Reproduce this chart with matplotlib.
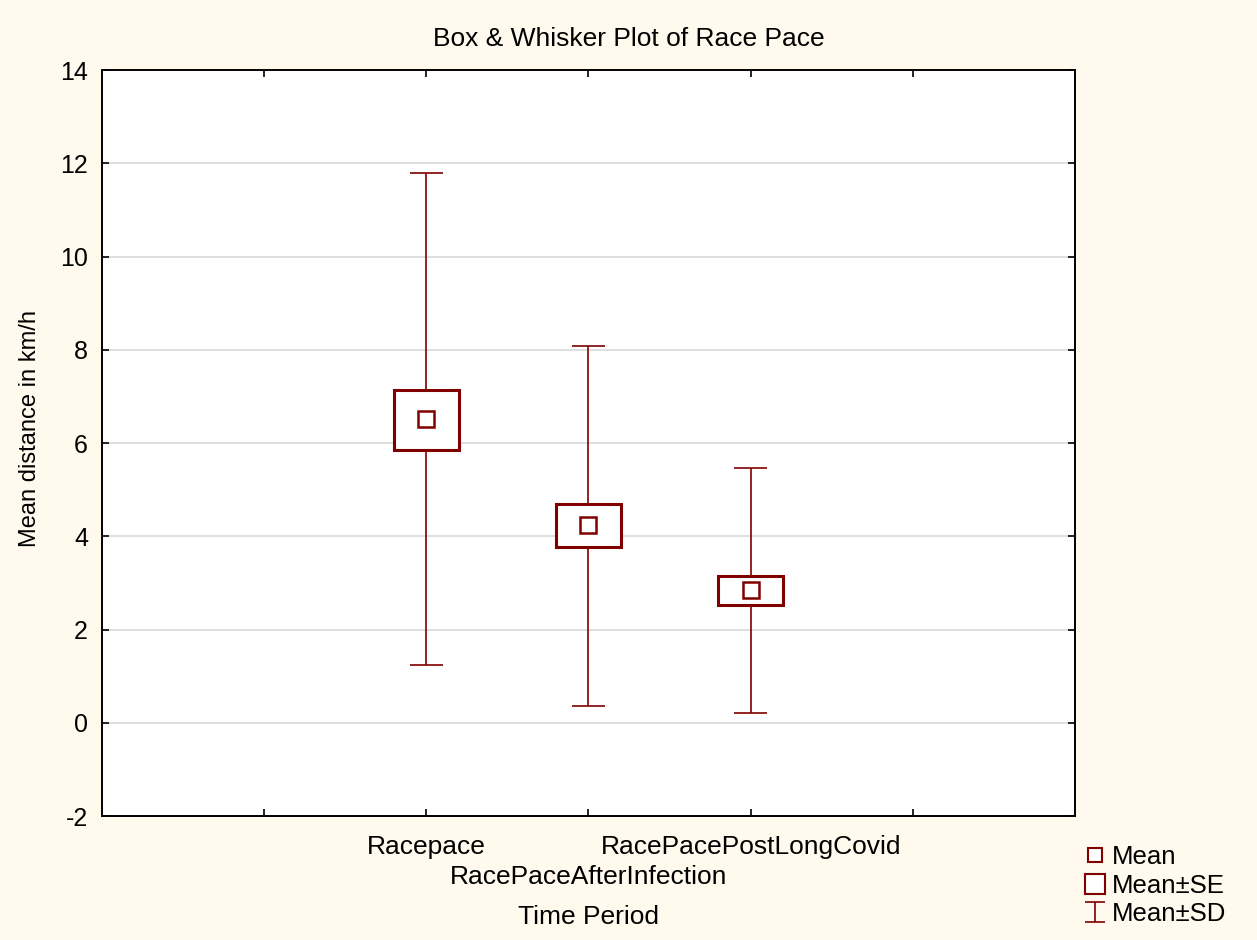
import numpy as np
import matplotlib.pyplot as plt
from matplotlib.patches import Rectangle
from matplotlib.lines import Line2D
from matplotlib.path import Path

plt.rcParams['font.family'] = ['Liberation Sans', 'DejaVu Sans']
plt.rcParams['axes.unicode_minus'] = False

# data
groups = ['Racepace', 'RacePaceAfterInfection', 'RacePacePostLongCovid']
means = [6.52, 4.24, 2.85]
se_lo = [5.86, 3.77, 2.53]
se_hi = [7.14, 4.69, 3.15]
sd_lo = [1.24, 0.36, 0.21]
sd_hi = [11.79, 8.09, 5.47]

red = '#800000'
bg = '#FFF9EE'

fig = plt.figure(figsize=(12.57, 9.4), dpi=100, facecolor=bg)
ax = fig.add_axes([0.0811, 0.1319, 0.7741, 0.7936])
ax.set_facecolor('white')

xs = np.arange(len(groups)) + 2
for i in range(len(groups)):
    x = xs[i]
    ax.vlines(x, sd_lo[i], sd_hi[i], color=red, lw=1.2, zorder=2)
    ax.hlines([sd_lo[i], sd_hi[i]], x - 0.1, x + 0.1, color=red, lw=1.2, zorder=2)
    ax.add_patch(Rectangle((x - 0.2, se_lo[i]), 0.4, se_hi[i] - se_lo[i],
                           facecolor='white', edgecolor=red, lw=2.2, zorder=3))
ax.plot(xs, means, ls='none', marker='s', ms=11, mfc='white', mec=red, mew=1.8, zorder=4)

ax.set_xlim(0, 6)
ax.set_ylim(-2, 14)
ax.set_yticks(np.arange(-2, 15, 2))
ax.set_xticks([1, 2, 3, 4, 5])
ax.set_xticklabels(['', groups[0], groups[1], groups[2], ''])
ax.yaxis.grid(True, color='#D9D9D9', lw=1.2)
ax.set_axisbelow(True)
ax.tick_params(direction='in', length=5, width=1.2, top=True, right=True, labelsize=18, pad=10)
ax.tick_params(axis='x', labelsize=19, pad=14)
# stagger the middle label like the original
ax.xaxis.get_major_ticks()[2].set_pad(35)
for s in ax.spines.values():
    s.set_linewidth(1.4)

fig.text(0.5, 0.959, 'Box & Whisker Plot of Race Pace', fontsize=19, ha='center', va='center')
ax.set_xlabel('Time Period', fontsize=19, labelpad=12)
ax.set_ylabel('Mean distance in km/h', fontsize=17, labelpad=14)
ax.yaxis.label.set_y(0.52)

ibeam = Path([(-1, 1), (1, 1), (0, 1), (0, -1), (-1, -1), (1, -1)],
             [Path.MOVETO, Path.LINETO, Path.MOVETO, Path.LINETO, Path.MOVETO, Path.LINETO])
handles = [
    Line2D([], [], ls='none', marker='s', ms=10, mfc='white', mec=red, mew=1.5),
    Line2D([], [], ls='none', marker='s', ms=14, mfc='white', mec=red, mew=1.5),
    Line2D([], [], ls='none', marker=ibeam, ms=15, mfc='none', mec=red, mew=1.2),
]
fig.legend(handles, ['Mean', 'Mean±SE', 'Mean±SD'], loc='upper left',
           bbox_to_anchor=(0.853, 0.112), frameon=False, fontsize=18.5,
           handletextpad=0.15, labelspacing=0.18, handlelength=1.0, borderaxespad=0)

fig.savefig('out.png', dpi=100, facecolor=bg)
